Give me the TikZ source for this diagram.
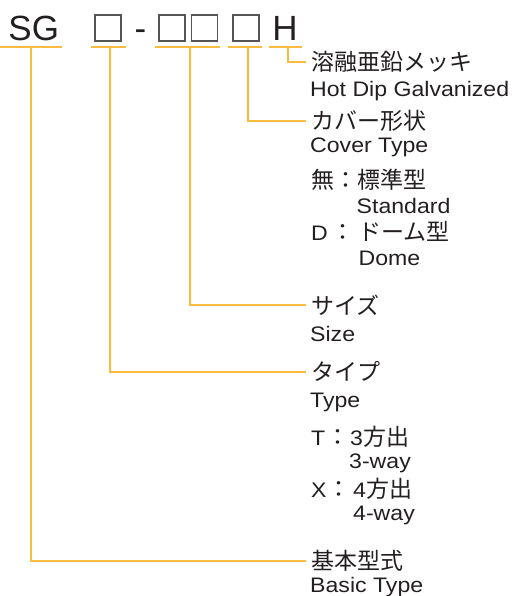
\documentclass[tikz,border=0pt]{standalone}
\usepackage{fontspec}
\setmainfont{Liberation Sans}
\newfontfamily\latinw{Liberation Sans}[FakeStretch=1.1]
\newfontfamily\jp{Noto Sans CJK JP}
\newcommand\lw[1]{{\latinw\fontsize{21}{25}\selectfont #1}}
\definecolor{ink}{HTML}{231F20}
\definecolor{leadc}{HTML}{F9BC3F}
\definecolor{boxc}{HTML}{555555}
\begin{document}
\begin{tikzpicture}[x=1pt,y=-1pt,
  lbl/.style={anchor=base west, inner sep=0pt, text=ink, font=\latinw\fontsize{21}{25}\selectfont},
  jlbl/.style={anchor=base west, inner sep=0pt, text=ink, font=\jp\fontsize{23}{27}\selectfont},
  ttl/.style={anchor=base west, inner sep=0pt, text=ink, font=\fontsize{35}{40}\selectfont},
  slot/.style={draw=boxc, line width=1.3pt, minimum size=26pt, inner sep=0pt},
  leadline/.style={draw=leadc, line width=1.8pt},
]
\useasboundingbox (0,0) rectangle (515,596);
% title
\node[ttl] (sg) at (8.3,41) {SG};
\node[slot] (b1) at (108,28) {};
\node[ttl] (dash) at (134.3,41) {-};
\node[slot] (b2) at (172,28) {};
\node[slot] (b3) at (204.5,28) {};
\node[slot] (b4) at (246,28) {};
\node[ttl] (h) at (272.2,41) {H};
% underline coordinates
\coordinate (u0a) at (0,47);   \coordinate (u0b) at (62,47);
\coordinate (u1a) at (91,47);  \coordinate (u1b) at (126,47);
\coordinate (u2a) at (155,47); \coordinate (u2b) at (220,47);
\coordinate (u3a) at (228,47); \coordinate (u3b) at (262,47);
\coordinate (u4a) at (269,47); \coordinate (u4b) at (302,47);
\coordinate (d0) at (31,47);
\coordinate (d1) at (110,47);
\coordinate (d2) at (190,47);
\coordinate (d3) at (248,47);
\coordinate (d4) at (288,47);
\coordinate (e0) at (306,561);
\coordinate (e1) at (306,372);
\coordinate (e2) at (306,305);
\coordinate (e3) at (306,121);
\coordinate (e4) at (306,62);
\draw[leadline] (u0a) -- (u0b);
\draw[leadline] (u1a) -- (u1b);
\draw[leadline] (u2a) -- (u2b);
\draw[leadline] (u3a) -- (u3b);
\draw[leadline] (u4a) -- (u4b);
\draw[leadline] (d0) |- (e0);
\draw[leadline] (d1) |- (e1);
\draw[leadline] (d2) |- (e2);
\draw[leadline] (d3) |- (e3);
\draw[leadline] (d4) |- (e4);
% labels
\node[jlbl] (hj) at (311,70.7) {溶融亜鉛メッキ};
\node[lbl] (he) at (310,97) {Hot Dip Galvanized};
\node[jlbl] (cj) at (311,129.7) {カバー形状};
\node[lbl] (ce) at (310,153) {Cover Type};
\node[jlbl] (c1j) at (311,188.7) {\makebox[46pt][l]{無：}標準型};
\node[lbl] (c1e) at (356.5,213) {Standard};
\node[jlbl] (c2j) at (311,240.7) {\makebox[47pt][l]{\lw{D}\hspace{4pt}：}ドーム型};
\node[lbl] (c2e) at (358.5,265) {Dome};
\node[jlbl] (sj) at (311,314.2) {サイズ};
\node[lbl] (se) at (310,341) {Size};
\node[jlbl] (tj) at (311,380.7) {タイプ};
\node[lbl] (te) at (310,407) {Type};
\node[jlbl] (t1j) at (311,445) {\makebox[39pt][l]{\lw{T}\hspace{1pt}：}\lw{3}方出};
\node[lbl] (t1e) at (349,468) {3-way};
\node[jlbl] (t2j) at (311,497.7) {\makebox[42pt][l]{\lw{X}\hspace{1pt}：}\lw{4}方出};
\node[lbl] (t2e) at (353,520) {4-way};
\node[jlbl] (bj) at (311,569.7) {基本型式};
\node[lbl] (be) at (310,592) {Basic Type};
\end{tikzpicture}
\end{document}
